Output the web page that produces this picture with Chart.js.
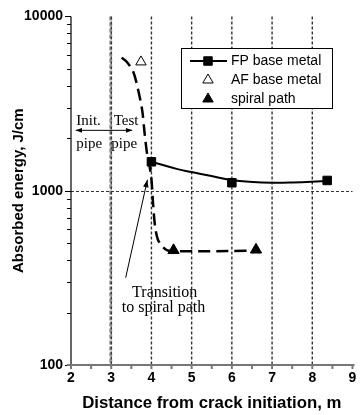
<!DOCTYPE html>
<html lang="en">
    <head>
        <meta charset="UTF-8" />
        <title>Absorbed energy</title>
        <script src="https://cdn.jsdelivr.net/npm/chart.js"></script>
        <style>
            html, body { margin: 0; padding: 0; background: #fff; }
            .chart-box { width: 360px; height: 415px; }
        </style>
    </head>
    <body>
        <div class="chart-box"><canvas id="energyChart"></canvas></div>
        <script>
            // FP base metal markers and the fitted curve through them
            const fpX = [4.0, 6.0, 8.37];
            const fpY = [1465, 1111, 1145];
            const fpFitX = [4.0, 4.65, 5.0, 5.46, 5.99, 6.52, 7.0, 7.5, 7.98, 8.37];
            const fpFitY = [1465, 1330, 1279, 1218, 1151, 1122, 1112, 1115, 1125, 1140];

            // AF base metal
            const afX = [3.74];
            const afY = [5480];

            // spiral path
            const spiralX = [4.55, 6.6];
            const spiralY = [455, 458];

            // dashed trend line
            const trendX = [3.26, 3.39, 3.55, 3.67, 3.77, 3.83, 3.89, 3.99, 4.04, 4.09, 4.16, 4.28, 4.44, 6.58];
            const trendY = [5800, 5480, 4800, 3780, 2900, 2140, 1640, 1230, 850, 625, 525, 477, 452, 452];

            const xTicks = [2, 3, 4, 5, 6, 7, 8, 9];
            const yTicks = [100, 1000, 10000];
            const xGridLines = [3, 4, 5, 6, 7, 8];
            const pipeBoundary = 3;
            const yGridLine = 1000;

            const legendLabels = ["FP base metal", "AF base metal", "spiral path"];

            const sansFont = "'Liberation Sans', Arial, sans-serif";
            const serifFont = "'Liberation Serif', 'Times New Roman', serif";

            const pts = (xs, ys) => xs.map((x, i) => ({ x: x, y: ys[i] }));

            function arrowHead(ctx, x1, y1, x2, y2, size) {
                const a = Math.atan2(y2 - y1, x2 - x1);
                ctx.beginPath();
                ctx.moveTo(x2, y2);
                ctx.lineTo(x2 - size * Math.cos(a - 0.35), y2 - size * Math.sin(a - 0.35));
                ctx.lineTo(x2 - size * Math.cos(a + 0.35), y2 - size * Math.sin(a + 0.35));
                ctx.closePath();
                ctx.fill();
            }

            const decorations = {
                id: "decorations",
                beforeDatasetsDraw(chart) {
                    const { ctx, chartArea: area, scales } = chart;
                    const xs = scales.x, ys = scales.y;
                    ctx.save();

                    // thick boundary between init and test pipe
                    const bx = xs.getPixelForValue(pipeBoundary) - 0.5;
                    ctx.strokeStyle = "#999";
                    ctx.lineWidth = 3;
                    ctx.setLineDash([4, 2]);
                    ctx.beginPath();
                    ctx.moveTo(bx, area.top);
                    ctx.lineTo(bx, area.bottom);
                    ctx.stroke();

                    // dotted grid
                    ctx.strokeStyle = "#333";
                    ctx.lineWidth = 1.4;
                    ctx.setLineDash([3, 2]);
                    xGridLines.forEach((v) => {
                        const p = xs.getPixelForValue(v);
                        ctx.beginPath();
                        ctx.moveTo(p, area.top);
                        ctx.lineTo(p, area.bottom);
                        ctx.stroke();
                    });
                    ctx.lineWidth = 1;
                    const gy = Math.round(ys.getPixelForValue(yGridLine)) + 0.5;
                    ctx.beginPath();
                    ctx.moveTo(area.left, gy);
                    ctx.lineTo(area.right, gy);
                    ctx.stroke();
                    ctx.setLineDash([]);

                    // y axis + ticks
                    ctx.strokeStyle = "#000";
                    ctx.lineWidth = 1.2;
                    ctx.beginPath();
                    ctx.moveTo(area.left, area.top);
                    ctx.lineTo(area.left, area.bottom);
                    ctx.stroke();
                    ctx.lineWidth = 1;
                    for (let d = 100; d <= 10000; d *= 10) {
                        for (let m = 1; m <= 9; m++) {
                            const v = d * m;
                            if (v > 10000) break;
                            const py = Math.round(ys.getPixelForValue(v)) + 0.5;
                            const len = m === 1 ? 6 : 4;
                            ctx.beginPath();
                            ctx.moveTo(area.left - len, py);
                            ctx.lineTo(area.left, py);
                            ctx.stroke();
                        }
                    }

                    // x axis + ticks
                    ctx.strokeStyle = "#777";
                    ctx.lineWidth = 2;
                    ctx.beginPath();
                    ctx.moveTo(area.left - 4, area.bottom);
                    ctx.lineTo(area.right + 2, area.bottom);
                    ctx.stroke();
                    for (let v = 2; v <= 9; v += 0.5) {
                        const p = xs.getPixelForValue(v);
                        ctx.beginPath();
                        ctx.moveTo(p, area.bottom);
                        ctx.lineTo(p, area.bottom + 4);
                        ctx.stroke();
                    }
                    ctx.restore();
                },
                afterDatasetsDraw(chart) {
                    const { ctx, scales } = chart;
                    const xs = scales.x, ys = scales.y;
                    const X = (v) => xs.getPixelForValue(v);
                    const Y = (v) => ys.getPixelForValue(v);
                    ctx.save();
                    ctx.fillStyle = "#000";
                    ctx.strokeStyle = "#000";

                    // Init. / Test pipe labels and double arrow
                    ctx.font = "15px " + serifFont;
                    ctx.textBaseline = "middle";
                    ctx.textAlign = "left";
                    ctx.fillText("Init.", X(2.13), Y(2520));
                    ctx.fillText("pipe", X(2.13), Y(1860));
                    ctx.fillText("Test", X(3.06), Y(2520));
                    ctx.fillText("pipe", X(3.0), Y(1860));
                    const ay = Y(2220);
                    ctx.lineWidth = 1;
                    ctx.beginPath();
                    ctx.moveTo(X(2.12), ay);
                    ctx.lineTo(X(3.52), ay);
                    ctx.stroke();
                    arrowHead(ctx, X(3.0), ay, X(2.11), ay, 7);
                    arrowHead(ctx, X(3.0), ay, X(3.53), ay, 7);

                    // transition arrow and label
                    const x1 = X(3.36), y1 = Y(317), x2 = X(3.9), y2 = Y(1156);
                    ctx.beginPath();
                    ctx.moveTo(x1, y1);
                    ctx.lineTo(x2, y2);
                    ctx.stroke();
                    arrowHead(ctx, x1, y1, x2, y2, 8);
                    ctx.font = "16px " + serifFont;
                    ctx.textAlign = "center";
                    ctx.fillText("Transition", X(4.33), Y(258));
                    ctx.fillText("to spiral path", X(4.3), Y(212));

                    // legend
                    ctx.fillStyle = "#fff";
                    ctx.fillRect(181.5, 48.5, 151, 60);
                    ctx.lineWidth = 1;
                    ctx.strokeRect(181.5, 48.5, 151, 60);
                    ctx.fillStyle = "#000";
                    ctx.lineWidth = 2;
                    ctx.beginPath();
                    ctx.moveTo(190, 61);
                    ctx.lineTo(227, 61);
                    ctx.stroke();
                    ctx.lineWidth = 1;
                    Chart.helpers.drawPoint(ctx, { pointStyle: "rect", radius: 6, rotation: 0, borderWidth: 1 }, 208, 61);
                    ctx.fillStyle = "#fff";
                    Chart.helpers.drawPoint(ctx, { pointStyle: "triangle", radius: 6, rotation: 0, borderWidth: 1 }, 208, 80);
                    ctx.fillStyle = "#000";
                    Chart.helpers.drawPoint(ctx, { pointStyle: "triangle", radius: 6, rotation: 0, borderWidth: 1 }, 208, 99);
                    ctx.font = "14px " + sansFont;
                    ctx.textAlign = "left";
                    ctx.textBaseline = "middle";
                    legendLabels.forEach((t, i) => ctx.fillText(t, 231, 61 + i * 19));
                    ctx.restore();
                },
            };

            new Chart(document.getElementById("energyChart"), {
                type: "line",
                data: {
                    datasets: [
                        {
                            label: "trend",
                            data: pts(trendX, trendY),
                            borderColor: "#000",
                            borderWidth: 2.5,
                            borderDash: [12, 6],
                            pointRadius: 0,
                            tension: 0.3,
                            fill: false,
                        },
                        {
                            label: "FP fit",
                            data: pts(fpFitX, fpFitY),
                            borderColor: "#000",
                            borderWidth: 2,
                            pointRadius: 0,
                            tension: 0.4,
                            fill: false,
                        },
                        {
                            label: legendLabels[0],
                            data: pts(fpX, fpY),
                            showLine: false,
                            pointStyle: "rect",
                            pointRadius: 6,
                            backgroundColor: "#000",
                            borderColor: "#000",
                        },
                        {
                            label: legendLabels[1],
                            data: pts(afX, afY),
                            showLine: false,
                            pointStyle: "triangle",
                            pointRadius: 6,
                            backgroundColor: "#fff",
                            borderColor: "#000",
                            borderWidth: 1,
                        },
                        {
                            label: legendLabels[2],
                            data: pts(spiralX, spiralY),
                            showLine: false,
                            pointStyle: "triangle",
                            pointRadius: 6.5,
                            backgroundColor: "#000",
                            borderColor: "#000",
                        },
                    ],
                },
                options: {
                    responsive: true,
                    maintainAspectRatio: false,
                    animation: false,
                    layout: { padding: { top: 16, right: 1.5, bottom: 0, left: 0 } },
                    plugins: {
                        legend: { display: false },
                        tooltip: { enabled: false },
                    },
                    scales: {
                        x: {
                            type: "linear",
                            min: 2,
                            max: 9,
                            afterBuildTicks: (s) => { s.ticks = xTicks.map((v) => ({ value: v })); },
                            afterFit: (s) => { s.paddingRight = 0; s.paddingLeft = 0; s.height = 50; },
                            ticks: {
                                color: "#000",
                                padding: 5,
                                maxRotation: 0,
                                font: { family: sansFont, size: 14, weight: "bold" },
                            },
                            grid: { display: false, drawTicks: false },
                            border: { display: false },
                            title: {
                                display: true,
                                text: "Distance from crack initiation, m",
                                color: "#000",
                                font: { family: sansFont, size: 16.8, weight: "bold" },
                                padding: { top: 0, bottom: 2 },
                            },
                        },
                        y: {
                            type: "logarithmic",
                            min: 100,
                            max: 10000,
                            afterBuildTicks: (s) => { s.ticks = yTicks.map((v) => ({ value: v })); },
                            afterFit: (s) => { s.width = 71; },
                            ticks: {
                                color: "#000",
                                padding: 8,
                                font: { family: sansFont, size: 14, weight: "bold" },
                                callback: (v) => String(v),
                            },
                            grid: { display: false, drawTicks: false },
                            border: { display: false },
                            title: {
                                display: true,
                                text: "Absorbed energy, J/cm",
                                color: "#000",
                                font: { family: sansFont, size: 15, weight: "bold" },
                                padding: { top: 9.5, bottom: 0 },
                            },
                        },
                    },
                },
                plugins: [decorations],
            });
        </script>
    </body>
</html>
